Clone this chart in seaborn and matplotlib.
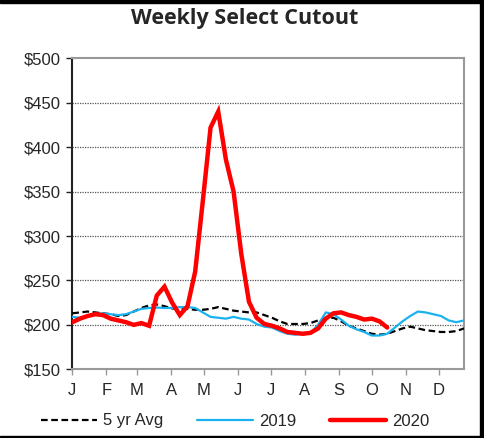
import matplotlib
matplotlib.use("Agg")
import matplotlib.pyplot as plt
import seaborn as sns
import pandas as pd
import numpy as np
from matplotlib.patches import Rectangle
from matplotlib.lines import Line2D

weeks = list(range(1, 53))
avg5 = [213, 214, 215, 214, 213, 212, 210, 211, 215, 219, 222, 223, 221, 218.5, 218, 218,
        217, 217, 218, 220, 218, 216, 215, 214, 214, 211, 208, 204, 201, 201, 201, 202,
        205, 207, 208, 204, 199, 196, 193, 190, 189, 190, 193, 196, 198, 196, 194, 193,
        192, 192, 193, 196]
y2019 = [209, 208, 209, 212, 213, 212, 211, 212, 215, 218, 219, 219.5, 219, 219, 220, 220,
         219, 214, 209, 208, 207, 209, 207, 206, 201, 198, 197, 193, 190, 189, 190, 191,
         200, 214, 212, 206, 199, 195, 192, 188, 188, 190, 197, 204, 210, 215, 214, 212,
         210, 205, 203, 205]
y2020 = [203, 207, 210, 212, 211, 207, 205, 203, 200, 202, 199, 233, 243, 225, 211, 221,
         260, 340, 422, 440, 386, 350, 280, 226, 208, 201, 199, 196, 192, 191, 190, 191,
         196, 207, 213, 214, 211, 209, 206, 207, 204, 197]
month_labels = ["J", "F", "M", "A", "M", "J", "J", "A", "S", "O", "N", "D"]
month_start_days = [0, 31, 59, 90, 120, 151, 181, 212, 243, 273, 304, 334]
y_ticks = [150, 200, 250, 300, 350, 400, 450, 500]

sns.set_theme(style="white")
plt.rcParams['font.family'] = ['Liberation Sans', 'DejaVu Sans']

fig = plt.figure(figsize=(4.85, 4.38), dpi=100)
ax = fig.add_axes([72.3/485, 1-369.3/438, (464-72.3)/485, (369.3-58.3)/438])

df_avg = pd.DataFrame({"week": weeks, "value": avg5})
df_19 = pd.DataFrame({"week": weeks, "value": y2019})
df_20 = pd.DataFrame({"week": weeks[:len(y2020)], "value": y2020})

sns.lineplot(data=df_avg, x="week", y="value", ax=ax, color="black", lw=1.6,
             linestyle=(0, (3, 1.6)), zorder=3)
sns.lineplot(data=df_19, x="week", y="value", ax=ax, color="#1AB2EE", lw=1.6, zorder=4)
sns.lineplot(data=df_20, x="week", y="value", ax=ax, color="#FF0000", lw=3.2, zorder=5,
             solid_joinstyle="miter")

ax.set_xlim(1, 52)
ax.set_ylim(150, 500)
ax.set_yticks(y_ticks)
ax.set_yticklabels([f"${v}" for v in y_ticks], fontsize=12)
xt = [1 + d/7 for d in month_start_days]
ax.set_xticks(xt)
ax.set_xticklabels(month_labels, fontsize=12)
ax.set_xlabel("")
ax.set_ylabel("")

for v in y_ticks[1:-1]:
    ax.axhline(v, color="#555555", lw=0.9, linestyle=(0, (1, 1)), zorder=1)

for s in ["top", "right", "bottom"]:
    ax.spines[s].set_color("#999999")
    ax.spines[s].set_linewidth(1.5)
ax.spines["left"].set_color("#222222")
ax.spines["left"].set_linewidth(1.5)
ax.tick_params(axis="y", direction="out", length=4, width=1, color="#222222", pad=4)
ax.tick_params(axis="x", direction="out", length=4, width=1, color="#999999", pad=6)
ax.tick_params(left=True, bottom=True)

fig.suptitle("Weekly Select Cutout", x=245/485, y=1-18.5/438, va="center",
             fontsize=15.5, fontweight="bold", family=["Open Sans", "DejaVu Sans"])

handles = [Line2D([], [], color="black", lw=1.6, linestyle=(0, (3, 1.6))),
           Line2D([], [], color="#1AB2EE", lw=1.6),
           Line2D([], [], color="#FF0000", lw=3.2)]
fig.legend(handles, ["5 yr Avg", "2019", "2020"], loc="center",
           bbox_to_anchor=(235/485, 1-421/438), ncol=3, frameon=False, fontsize=12,
           handlelength=3.4, handletextpad=0.35, columnspacing=2.0)

# outer black frame edges
fig.patches.append(Rectangle((480/485, 0), 5/485, 1, transform=fig.transFigure,
                             color="black", zorder=10))
fig.patches.append(Rectangle((0, 1-3/438), 1, 3/438, transform=fig.transFigure,
                             color="black", zorder=10))
fig.patches.append(Rectangle((0, 0), 1, 2/438, transform=fig.transFigure,
                             color="black", zorder=10))

fig.savefig("out.png", dpi=100)
